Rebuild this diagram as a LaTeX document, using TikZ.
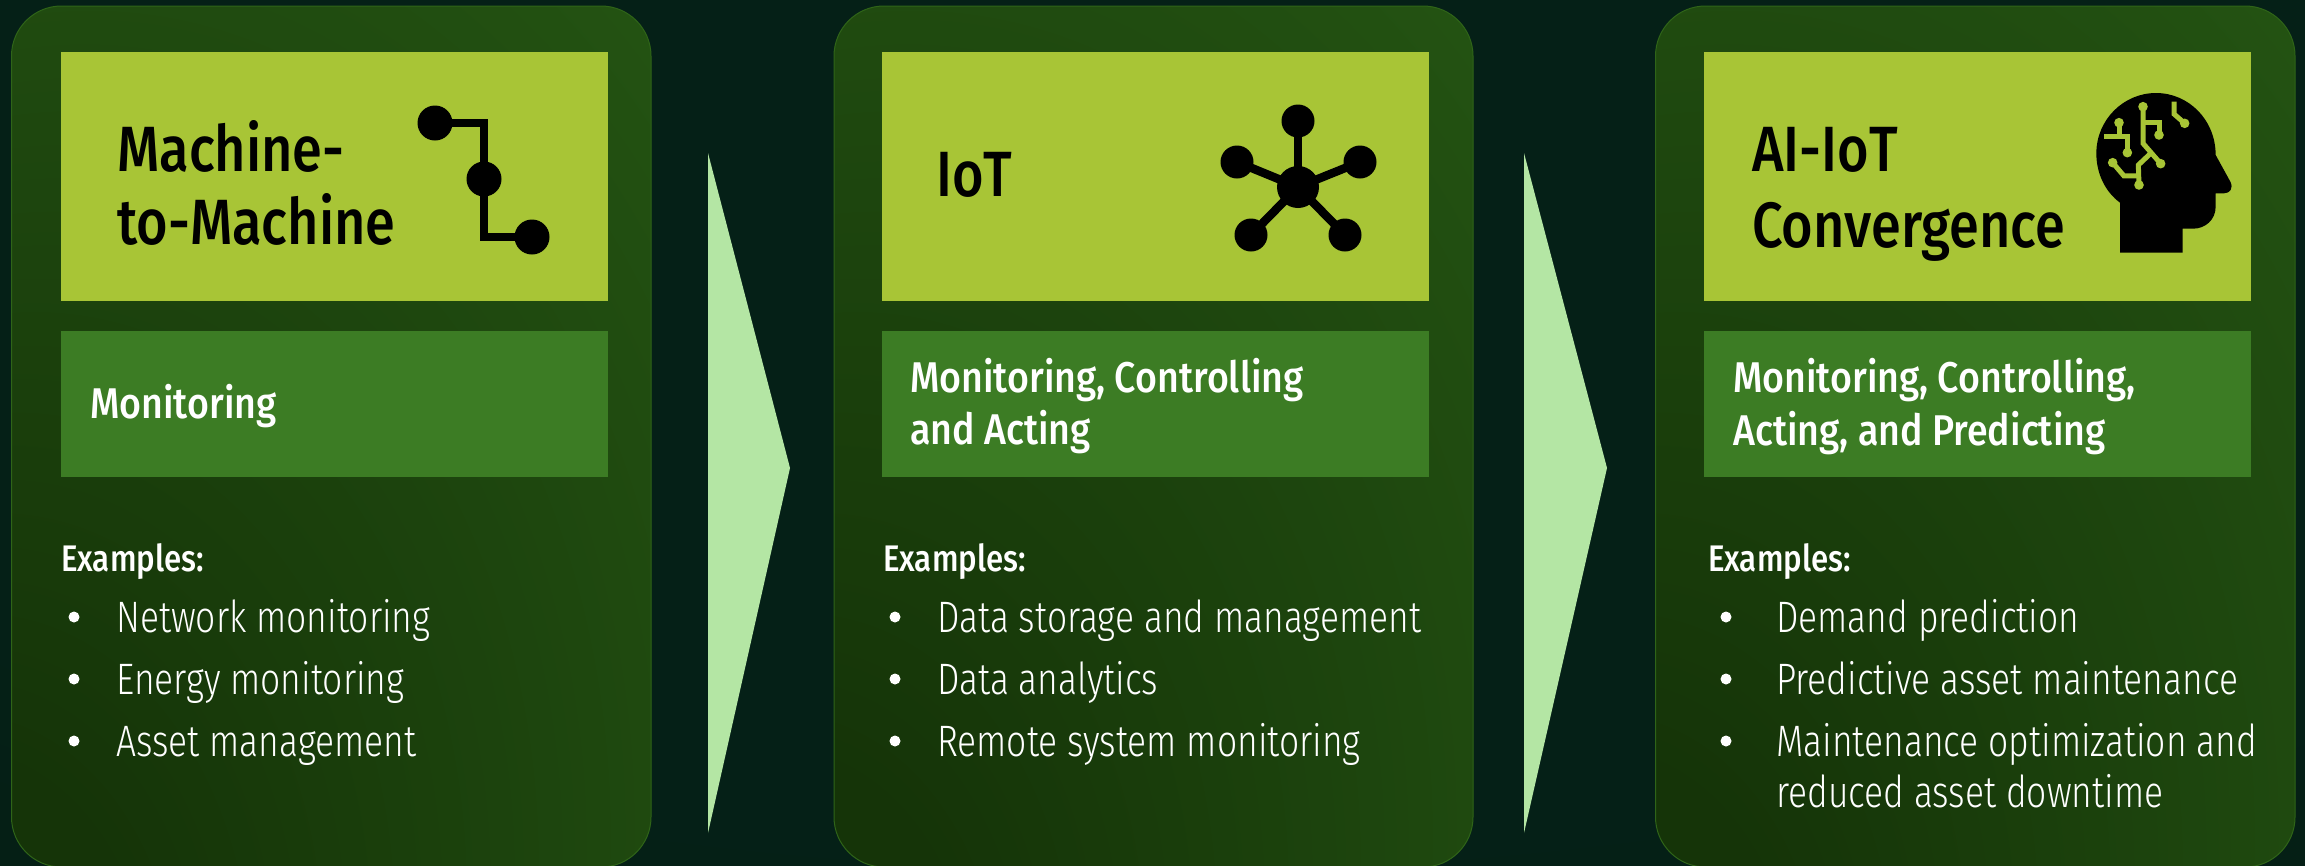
\documentclass[tikz,border=0pt]{standalone}
\usepackage{fontspec}
\setmainfont{Fira Sans Medium}[FakeStretch=0.873]
\newfontfamily\lightf{Fira Sans Light}[FakeStretch=0.805]
\newfontfamily\medf{Fira Sans Medium}[FakeStretch=0.845]
\newfontfamily\titlef{Fira Sans Medium}[FakeStretch=0.845]
\definecolor{bgin}{HTML}{052017}
\definecolor{bgout}{HTML}{041D10}
\definecolor{pdark}{HTML}{153408}
\definecolor{plight}{HTML}{265814}
\definecolor{pedge}{HTML}{2F6418}
\definecolor{lime}{HTML}{A8C536}
\definecolor{midg}{HTML}{3C7C24}
\definecolor{arrowg}{HTML}{B4E6A4}
\pgfdeclareradialshading{panelglow}{\pgfpoint{-35bp}{-40bp}}{color(0bp)=(pdark);color(15bp)=(pdark);color(65bp)=(plight);color(100bp)=(plight)}
\pgfdeclareradialshading{bgglow}{\pgfpoint{0bp}{10bp}}{color(0bp)=(bgin);color(30bp)=(bgin);color(60bp)=(bgout);color(100bp)=(bgout)}
\tikzset{
 x=1pt,y=-1pt,
 panel/.style={draw=pedge,line width=1pt,shading=panelglow,rounded corners=50pt},
 titlebox/.style={fill=lime},
 midbox/.style={fill=midg},
 flow/.style={fill=arrowg},
 ttl/.style={anchor=base west,inner sep=0pt,text=black,font=\titlef\fontsize{64}{64}\selectfont},
 mid/.style={anchor=base west,inner sep=0pt,text=white,font=\fontsize{43}{43}\selectfont},
 exh/.style={anchor=base west,inner sep=0pt,text=white,font=\medf\fontsize{37}{37}\selectfont},
 itm/.style={anchor=base west,inner sep=0pt,text=white,font=\lightf\fontsize{44}{44}\selectfont},
 bul/.style={circle,fill=white,inner sep=0pt,minimum size=11pt},
 dot/.style={circle,fill=black,inner sep=0pt},
 wire/.style={line width=8.5pt,draw=black},
 trace/.style={line width=5pt,draw=lime},
 tdot/.style={circle,fill=lime,inner sep=0pt,minimum size=9.6pt}
}
\begin{document}
\begin{tikzpicture}
\useasboundingbox (0,0) rectangle (2305,865);
\shade[shading=bgglow] (0,0) rectangle (2305,865);
% panels
\shade[panel] (11.5,6) rectangle (651,867);
\shade[panel] (834,6) rectangle (1473,867);
\shade[panel] (1655.5,6) rectangle (2295,867);
% arrows
\fill[flow] (708,153) -- (790,468) -- (708,833) -- cycle;
\fill[flow] (1524,153) -- (1607,468) -- (1524,833) -- cycle;
% title and sub-title boxes
\fill[titlebox] (61,52) rectangle (608,301);
\fill[midbox] (61,331) rectangle (608,477);
\fill[titlebox] (882,52) rectangle (1429,301);
\fill[midbox] (882,331) rectangle (1429,477);
\fill[titlebox] (1704,52) rectangle (2251,301);
\fill[midbox] (1704,331) rectangle (2251,477);
% panel 1
\node[ttl] (t1a) at (117,171) {Machine-};
\node[ttl] (t1b) at (117,244) {to-Machine};
\node[mid] (m1) at (90,418) {Monitoring};
\node[exh] (e1) at (61,571) {Examples:};
\foreach \n/\y/\t in {a/632/Network monitoring,b/694/Energy monitoring,c/756/Asset management}{
  \node[itm] (i1\n) at (116,\y) {\t};
  \node[bul] (b1\n) at (74,\y-15) {};
}
% m2m icon
\node[dot,minimum size=35pt] (ma) at (435,123) {};
\node[dot,minimum size=35pt] (mb) at (484,179) {};
\node[dot,minimum size=35pt] (mc) at (532,237) {};
\draw[wire] (ma.center) -- (484,123) -- (mb.center) -- (484,237) -- (mc.center);
% panel 2
\node[ttl] (t2) at (936,196) {IoT};
\node[mid] (m2a) at (910,392) {Monitoring, Controlling};
\node[mid] (m2b) at (910,444) {and Acting};
\node[exh] (e2) at (883,571) {Examples:};
\foreach \n/\y/\t in {a/632/Data storage and management,b/694/Data analytics,c/756/Remote system monitoring}{
  \node[itm] (i2\n) at (937,\y) {\t};
  \node[bul] (b2\n) at (895,\y-15) {};
}
% hub icon
\node[dot,minimum size=42pt] (hub) at (1298,187) {};
\foreach \n/\p in {a/{1298,121},b/{1237,162},c/{1360,162},d/{1251,235},e/{1345,235}}{
  \node[dot,minimum size=33pt] (h\n) at (\p) {};
  \draw[wire] (hub.center) -- (h\n.center);
}
% panel 3
\node[ttl] (t3a) at (1752,171) {AI-IoT};
\node[ttl] (t3b) at (1752,247) {Convergence};
\node[mid] (m3a) at (1733,392) {Monitoring, Controlling,};
\node[mid] (m3b) at (1733,445) {Acting, and Predicting};
\node[exh] (e3) at (1708,571) {Examples:};
\foreach \n/\y/\t in {a/632/Demand prediction,b/694/Predictive asset maintenance,c/756/Maintenance optimization and}{
  \node[itm] (i3\n) at (1776,\y) {\t};
  \node[bul] (b3\n) at (1726,\y-15) {};
}
\node[itm] (i3d) at (1776,807) {reduced asset downtime};
% head icon
\begin{scope}[shift={(2050,90)},x=0.3333pt,y=-0.3333pt]
\fill[black] (210,488) -- (210,338) .. controls (165,305) and (139,250) .. (139,190)
  .. controls (139,90) and (220,9) .. (318,9)
  .. controls (416,9) and (497,90) .. (497,195)
  -- (541,275) .. controls (551,295) and (540,310) .. (522,310)
  -- (497,310) -- (497,350) .. controls (497,390) and (465,416) .. (430,416)
  -- (398,416) -- (398,488) -- cycle;
\draw[trace] (279,50) -- (279,160) -- (332,221);
\draw[trace] (279,97) -- (327,97) -- (327,135);
\draw[trace] (300,192) -- (265,225) -- (267,285);
\draw[trace] (188,218) -- (222,258) -- (267,258);
\draw[trace] (207,98) -- (207,141);
\draw[trace] (163,141) -- (232,141) -- (232,188);
\draw[trace] (372,35) -- (372,72) -- (404,100);
\foreach \p in {{279,50},{332,221},{327,135},{267,285},{188,218},{207,98},{232,188},{404,100}}{
  \node[tdot] at (\p) {};
}
\end{scope}
\end{tikzpicture}
\end{document}
